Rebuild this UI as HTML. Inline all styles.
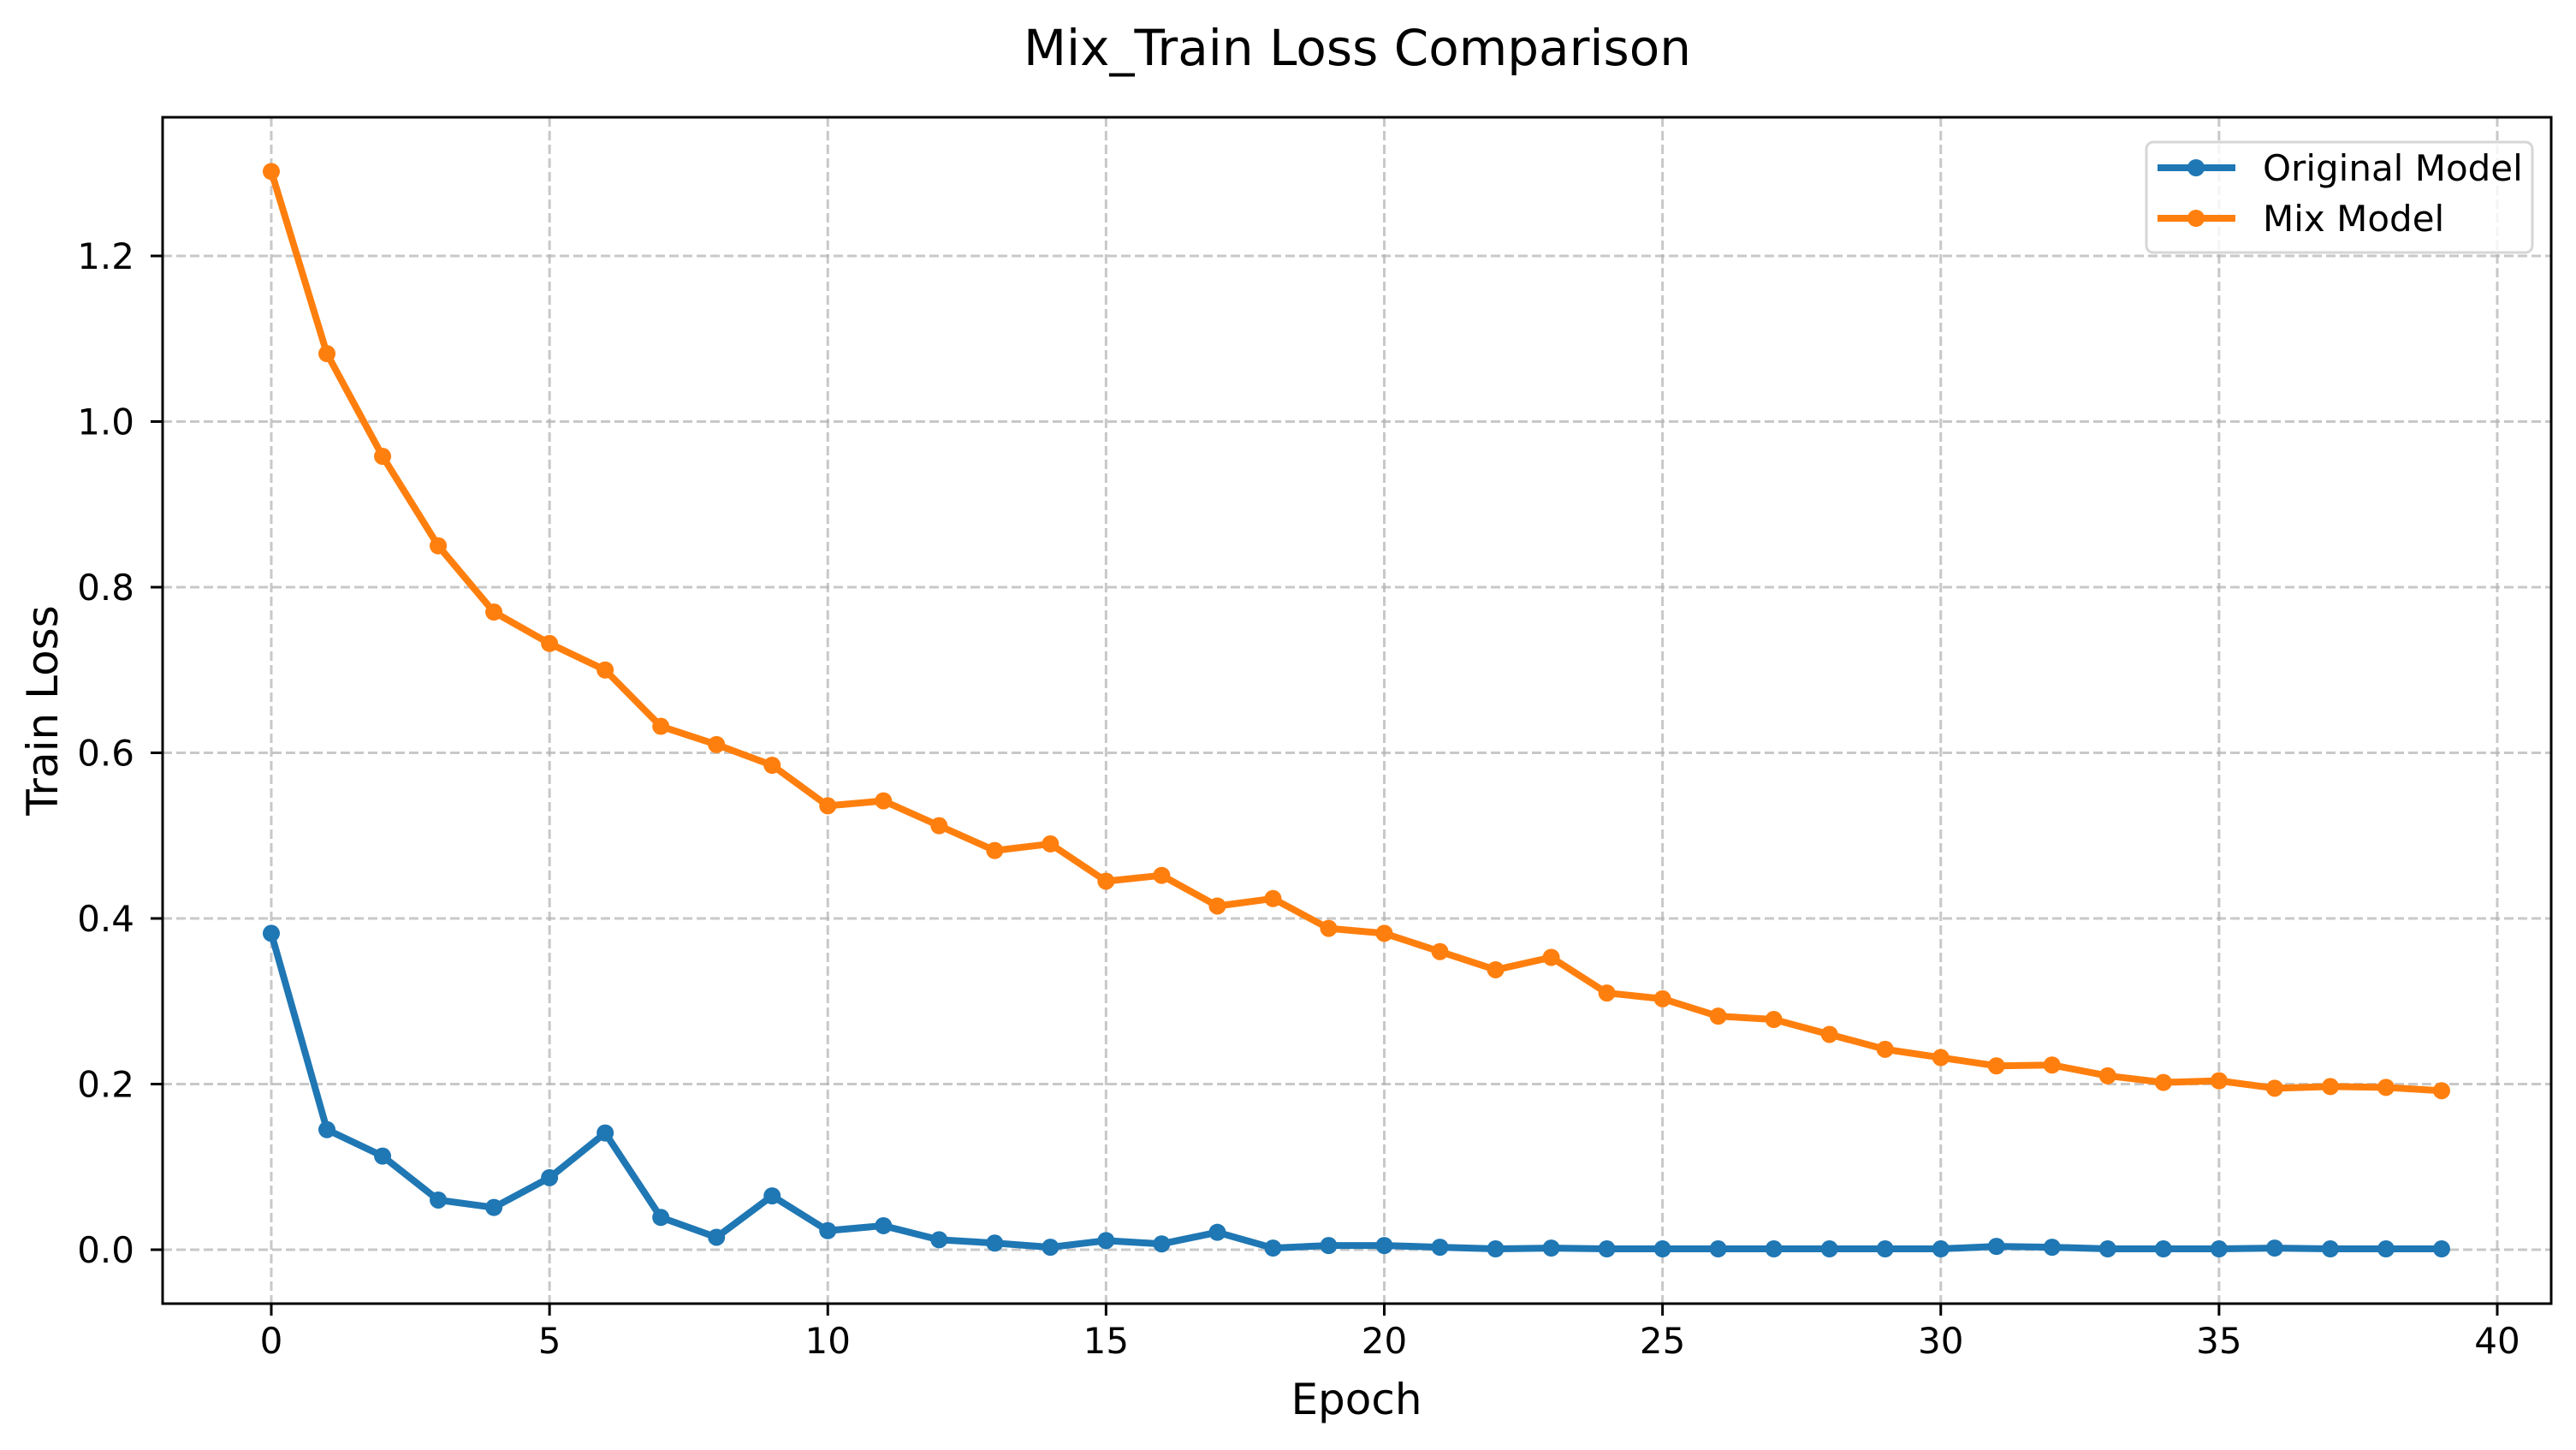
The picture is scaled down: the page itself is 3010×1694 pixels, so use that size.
<!DOCTYPE html>
<html><head><meta charset="utf-8"><style>
html,body{margin:0;padding:0;background:#fff;}
svg text{font-family:"DejaVu Sans","Liberation Sans",sans-serif;fill:#000;}
</style></head><body>
<svg id="chart" width="3010" height="1689" viewBox="0 0 3010 1689" xmlns="http://www.w3.org/2000/svg">
<rect x="0" y="0" width="3010" height="1689" fill="#fff"/>
<text x="1586" y="76" font-size="58" text-anchor="middle">Mix_Train Loss Comparison</text>
<g id="grid"></g>
<g id="series"></g>
<rect x="190" y="137" width="2791" height="1386" fill="none" stroke="#000" stroke-width="3"/>
<g id="axes"></g>
<text x="1585" y="1652" font-size="50" text-anchor="middle">Epoch</text>
<text transform="translate(67,830) rotate(-90)" font-size="50" text-anchor="middle">Train Loss</text>
<g>
<rect x="2508" y="166" width="451" height="129" rx="8" fill="#fff" fill-opacity="0.8" stroke="#d6d6d6" stroke-width="3"/>
<line x1="2521" y1="196" x2="2612" y2="196" stroke="#1f77b4" stroke-width="8"/>
<circle cx="2566" cy="196" r="10" fill="#1f77b4"/>
<text x="2644" y="211" font-size="42">Original Model</text>
<line x1="2521" y1="255" x2="2612" y2="255" stroke="#ff7f0e" stroke-width="8"/>
<circle cx="2566" cy="255" r="10" fill="#ff7f0e"/>
<text x="2644" y="270" font-size="42">Mix Model</text>
</g>
</svg>
<script>
const epochs = [0,1,2,3,4,5,6,7,8,9,10,11,12,13,14,15,16,17,18,19,20,21,22,23,24,25,26,27,28,29,30,31,32,33,34,35,36,37,38,39];
const originalLoss = [0.382,0.145,0.113,0.060,0.051,0.087,0.141,0.039,0.015,0.065,0.023,0.029,0.012,0.008,0.003,0.011,0.007,0.021,0.002,0.005,0.005,0.003,0.001,0.002,0.001,0.001,0.001,0.001,0.001,0.001,0.001,0.004,0.003,0.001,0.001,0.001,0.002,0.001,0.001,0.001];
const mixLoss = [1.302,1.082,0.958,0.850,0.770,0.732,0.700,0.632,0.610,0.585,0.536,0.542,0.512,0.482,0.490,0.445,0.452,0.415,0.424,0.388,0.382,0.360,0.338,0.353,0.310,0.303,0.282,0.278,0.260,0.242,0.232,0.222,0.223,0.210,0.202,0.204,0.195,0.197,0.196,0.192];
const xTicks = [0,5,10,15,20,25,30,35,40];
const yTicks = [0.0,0.2,0.4,0.6,0.8,1.0,1.2];

const NS='http://www.w3.org/2000/svg';
const X0=317, XS=65.025, Y0=1460, YS=967.5, L=190, R=2981, T=137, B=1523;
function xs(v){return X0+v*XS;}
function ys(v){return Y0-v*YS;}
function mk(tag,attrs,parent){const e=document.createElementNS(NS,tag);for(const k in attrs)e.setAttribute(k,attrs[k]);parent.appendChild(e);return e;}
const grid=document.getElementById('grid'), axes=document.getElementById('axes'), series=document.getElementById('series');
xTicks.forEach(t=>{
  const x=xs(t);
  const g=mk('line',{x1:x,x2:x,y1:T,y2:B,stroke:'#b0b0b0','stroke-opacity':0.7,'stroke-width':3,'stroke-dasharray':'11 5'},grid);
  
  
  const tk=mk('line',{x1:x,x2:x,y1:B,y2:B+14,stroke:'#000','stroke-width':3},axes);
  
  
  const lb=mk('text',{x:x,y:B+58,'font-size':42,'text-anchor':'middle'},axes);
  lb.textContent=String(t);
  
  
});
yTicks.forEach(t=>{
  const y=ys(t);
  const g=mk('line',{x1:L,x2:R,y1:y,y2:y,stroke:'#b0b0b0','stroke-opacity':0.7,'stroke-width':3,'stroke-dasharray':'11 5'},grid);
  
  
  const tk=mk('line',{x1:L-14,x2:L,y1:y,y2:y,stroke:'#000','stroke-width':3},axes);
  
  
  const lb=mk('text',{x:L-33,y:y+15,'font-size':42,'text-anchor':'end'},axes);
  lb.textContent=t.toFixed(1);
  
  
});
function drawSeries(vals,color,name){
  const pts=vals.map((v,i)=>xs(epochs[i])+','+ys(v)).join(' ');
  const pl=mk('polyline',{points:pts,fill:'none',stroke:color,'stroke-width':8,'stroke-linejoin':'round','stroke-linecap':'square'},series);
  
  
  vals.forEach((v,i)=>{
    const c=mk('circle',{cx:xs(epochs[i]),cy:ys(v),r:10,fill:color},series);
    
    
  });
}
drawSeries(originalLoss,'#1f77b4','original-model');
drawSeries(mixLoss,'#ff7f0e','mix-model');
</script>
</body></html>
